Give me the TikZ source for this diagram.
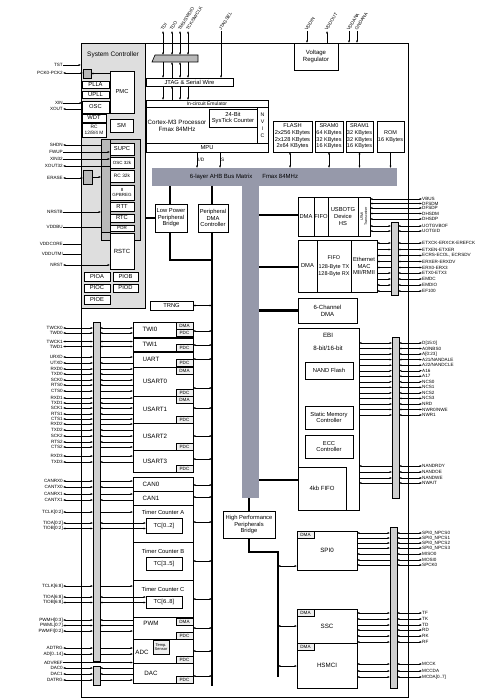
\documentclass[tikz,border=0pt]{standalone}
\usepackage{fontspec}
\setmainfont{Liberation Sans}
\usetikzlibrary{arrows.meta}
\definecolor{sysg}{RGB}{222,222,222}
\definecolor{supg}{RGB}{196,196,196}
\definecolor{busg}{RGB}{150,153,170}
\definecolor{muxg}{RGB}{208,208,208}
\newcommand{\fz}[2]{\fontsize{#1}{#2}\selectfont}
\newcommand{\bx}[7][]{\node[box,anchor=north west,minimum width={(#5-#3)*1pt},minimum height={(#6-#4)*1pt},#1] (#2) at (#3,#4) {#7};}
\newcommand{\tg}[4]{\node[tagbox,anchor=north west] (#1) at (#2,#3) {#4};}
\tikzset{
  myt/.tip={Latex[length=2.4pt,width=2pt]},
  box/.style={draw,line width=0.8pt,fill=white,inner sep=0pt,outer sep=0pt,align=center,font=\fz{5.8}{6.6}},
  tagbox/.style={draw,line width=0.9pt,fill=gray!12,inner sep=0pt,outer sep=0pt,minimum width=17pt,minimum height=7pt,font=\fz{4.6}{4.6}},
  ar/.style={-myt,line width=0.4pt},
  ra/.style={myt-,line width=0.4pt},
  dar/.style={myt-myt,line width=0.4pt},
  si/.style={ar}, so/.style={ra}, sb/.style={dar},
  pl/.style={font=\fz{4.6}{4.6},inner sep=0pt,anchor=east},
  pr/.style={font=\fz{4.6}{4.6},inner sep=0pt,anchor=west},
  ptop/.style={font=\fz{4.6}{4.6},inner sep=0pt,anchor=west,rotate=58},
  bus/.style={line width=2.3pt},
  mux/.style={draw,line width=0.5pt,fill=muxg,inner sep=0pt,outer sep=0pt},
  lbl/.style={font=\fz{6.2}{7},inner sep=0pt,align=center},
}
\begin{document}
\begin{tikzpicture}[x=1pt,y=-1pt]
\useasboundingbox (0,0) rectangle (483,700);
% ---------- chip frame ----------
\bx{chip}{81}{43}{408}{697}{}
% ---------- system controller ----------
\bx[fill=sysg]{sysc}{81}{43}{145}{308}{}
\node[lbl,font=\fz{6.5}{7}] (systitle) at (113,55) {System Controller};
\bx[fill=supg]{supr}{101}{139}{140}{240}{}
\bx[fill=gray!55,line width=0.5pt]{supcol}{101}{139}{110}{232}{}
\bx[fill=gray!55]{gsqa}{83}{69}{91}{78}{}
\bx[fill=gray!55]{gsqb}{83}{170}{92}{184}{}
\bx{pmc}{110}{71}{134}{113}{PMC}
\bx{plla}{82}{81}{109}{88}{PLLA}
\bx{upll}{82}{91}{109}{98}{UPLL}
\bx{osc}{82}{101}{109}{113}{OSC}
\bx{wdt}{82}{114}{106}{122}{WDT}
\bx[font=\fz{4.8}{5.3}]{rc}{82}{123}{106}{137}{RC\\12/8/4 M}
\bx{sm}{110}{119}{133}{132}{SM}
\bx{supc}{110}{143}{134}{155}{SUPC}
\bx[font=\fz{4.5}{5}]{osck}{110}{157}{134}{168}{OSC 32k}
\bx[font=\fz{4.8}{5}]{rck}{110}{170}{134}{182}{RC 32k}
\bx[font=\fz{4.5}{5}]{gpb}{110}{185}{134}{200}{8\\GPBREG}
\bx{rtt}{110}{202}{134}{211}{RTT}
\bx{rtc}{110}{214}{134}{222}{RTC}
\bx[font=\fz{4.5}{5}]{por}{110}{225}{134}{231}{POR}
\bx[font=\fz{6}{7}]{rstc}{110}{233}{134}{269}{RSTC}
\bx{pioa}{84}{272}{110}{281}{PIOA}
\bx{piob}{113}{272}{138}{281}{PIOB}
\bx{pioc}{84}{284}{110}{292}{PIOC}
\bx{piod}{113}{284}{138}{292}{PIOD}
\bx{pioe}{84}{295}{110}{304}{PIOE}
\draw[ar] (pmc.west |- gsqa.east) -- (gsqa.east);
\draw[ar] (gsqb.east) -- (supr.west |- gsqb.east);
% system pins
\node[pl] (ptst) at (63,65) {TST};        \draw[ar] (ptst.east) -- (chip.west |- ptst.east);
\node[pl] (ppck) at (63,73) {PCK0-PCK2};  \draw[dar] (ppck.east) -- (gsqa.west |- ppck.east);
\node[pl] (pxin) at (63,103) {XIN};       \draw[ar] (pxin.east) -- (osc.west |- pxin.east);
\node[pl] (pxout) at (63,109) {XOUT};     \draw[ra] (pxout.east) -- (osc.west |- pxout.east);
\node[pl] (pshdn) at (63,145) {SHDN};     \draw[ra] (pshdn.east) -- (supr.west |- pshdn.east);
\node[pl] (pfwup) at (63,152) {FWUP};     \draw[ar] (pfwup.east) -- (supc.west |- pfwup.east);
\node[pl] (pxin32) at (63,159) {XIN32};   \draw[ar] (pxin32.east) -- (osck.west |- pxin32.east);
\node[pl] (pxo32) at (63,166) {XOUT32};   \draw[ra] (pxo32.east) -- (osck.west |- pxo32.east);
\node[pl] (perase) at (63,178) {ERASE};   \draw[dar] (perase.east) -- (gsqb.west |- perase.east);
\node[pl] (pnrstb) at (63,212) {NRSTB};   \draw[ar] (pnrstb.east) -- (supr.west |- pnrstb.east);
\node[pl] (pvddbu) at (63,227) {VDDBU};   \draw[line width=0.4pt] (pvddbu.east) -- (supr.west |- pvddbu.east);
\node[pl] (pvddc) at (63,244) {VDDCORE};  \draw[line width=0.4pt] (pvddc.east) -- (chip.west |- pvddc.east);
\node[pl] (pvddu) at (63,254) {VDDUTMI};  \draw[line width=0.4pt] (pvddu.east) -- (chip.west |- pvddu.east);
\node[pl] (pnrst) at (63,265) {NRST};     \draw[dar] (pnrst.east) -- (rstc.west |- pnrst.east);
% ---------- top: JTAG, processor ----------
\node[anchor=north west,minimum width=46pt,minimum height=7pt,inner sep=0pt,outer sep=0pt] (bscan) at (152,55) {};
\draw[fill=gray!55,line width=0.6pt] (155,55) -- (198,55) -- (198,62) -- (152,62) -- cycle;
\bx{jtag}{146}{78}{233}{86}{JTAG \& Serial Wire}
\bx{cortex}{146}{100}{268}{152}{}
\bx[font=\fz{5}{5}]{ice}{146}{100}{268}{107}{In-circuit Emulator}
\node[lbl] (cortext) at (177,126) {Cortex-M3 Processor\\Fmax 84MHz};
\bx{systick}{209}{109}{257}{127}{24-Bit\\SysTick Counter}
\bx[font=\fz{5.2}{7}]{nvic}{257}{107}{268}{143}{N\\V\\I\\C}
\bx{mpu}{146}{143}{268}{152}{MPU}
\foreach \n/\x [count=\i] in {TDI/163,TDO/172,{TMS/SWDIO}/180,{TCK/SWCLK}/188}{
  \node[ptop] (tj\i) at (\x-1,30) {\n};
  \draw[dar] (\x,31) -- (\x,55);
}
\draw[ar] (163,62) -- (163,78);  \draw[ra] (172,62) -- (172,78);
\draw[dar] (180,62) -- (180,78); \draw[ar] (188,62) -- (188,78);
\draw[ar] (163,86) -- (163,100); \draw[ra] (172,86) -- (172,100);
\draw[ar] (180,86) -- (180,100); \draw[ar] (188,86) -- (188,100);
\node[ptop] (tjs) at (220,30) {JTAGSEL};  \draw[ar] (221,31) -- (jtag.north -| 221,0);
\bx[font=\fz{6}{7}]{vreg}{294}{43}{338}{70}{Voltage\\Regulator}
\node[ptop] (tvin) at (306,30) {VDDIN};   \draw[ar] (307,31) -- (vreg.north -| 307,0);
\node[ptop] (tvout) at (326,30) {VDDOUT}; \draw[ra] (327,31) -- (vreg.north -| 327,0);
\node[ptop] (tvana) at (348,30) {VDDANA}; \draw[ar] (349,31) -- (349,43);
\node[ptop] (tgana) at (356,30) {GNDANA}; \draw[ar] (357,31) -- (357,43);
% ---------- bus matrix ----------
\node[fill=busg,anchor=north west,minimum width=245pt,minimum height=18pt,inner sep=0pt,outer sep=0pt] (ahb) at (152,168) {};
\node[font=\fz{6}{6},inner sep=0pt] (ahbt) at (244,177) {6-layer AHB Bus Matrix\hspace{10pt}Fmax 84MHz};
\node[fill=busg,anchor=north west,minimum width=17pt,minimum height=312pt,inner sep=0pt,outer sep=0pt] (stem) at (242,186) {};
\draw[ar] (197,152) -- (197,168) node[midway,right,font=\fz{4.8}{5},inner sep=1pt] (lid) {I/D};
\draw[ar] (220,152) -- (220,168) node[midway,right,font=\fz{4.8}{5},inner sep=1pt] (ls) {S};
% memories
\bx[font=\fz{5.7}{6.7}]{flash}{273}{121}{312}{152}{FLASH\\2x256 KBytes\\2x128 KBytes\\2x64 KBytes}
\bx[font=\fz{5.5}{6.7}]{sram0}{315}{121}{343}{152}{SRAM0\\64 KBytes\\32 KBytes\\16 KBytes}
\bx[font=\fz{5.5}{6.7}]{sram1}{346}{121}{373}{152}{SRAM1\\32 KBytes\\32 KBytes\\16 KBytes}
\bx[font=\fz{5.5}{6.7}]{rom}{377}{121}{404}{152}{ROM\\16 KBytes}
\draw[dar] (flash.south -| 290,0) -- (ahb.north -| 290,0);
\draw[dar] (sram0.south) -- (ahb.north -| sram0.south);
\draw[dar] (sram1.south) -- (ahb.north -| sram1.south);
\draw[ar] (rom.south) -- (ahb.north -| rom.south);
% ---------- bridges ----------
\bx{lppb}{155}{204}{187}{232}{Low Power\\Peripheral\\Bridge}
\bx{pdmac}{198}{204}{228}{232}{Peripheral\\DMA\\Controller}
\draw[bus] (ahb.south -| 170,0) -- (lppb.north -| 170,0);
\draw[bus] (ahb.south -| 212,0) -- (pdmac.north -| 212,0);
\draw[bus] (lppb.west) -- (sysc.east |- lppb.west);
\draw[bus] (lppb.south -| 170,0) -- (170,260) -- (212,260);
\coordinate (apbend) at (212,686);
\draw[bus] (pdmac.south -| 212,0) -- (apbend);
\bx{trng}{150}{301}{193}{310}{TRNG}
\draw[dar] (trng.east) -- (trng.east -| apbend);
% ---------- USB ----------
\bx{udma}{298}{197}{314}{236}{DMA}
\bx{ufifo}{314}{197}{328}{236}{FIFO}
\bx{uotg}{328}{197}{358}{236}{USBOTG\\Device\\HS}
\bx{utmi}{358}{197}{370}{236}{}
\node[rotate=90,font=\fz{3.6}{4},align=center,inner sep=0pt] (utmit) at (utmi.center) {UTMI\\Transceiver};
\draw[bus] (stem.east |- 0,215) -- (udma.west |- 0,215);
% ---------- Ethernet ----------
\bx{edma}{298}{240}{317}{292}{DMA}
\bx[font=\fz{5.5}{6.5}]{efifo}{317}{240}{351}{292}{FIFO\\[3pt]128-Byte TX\\128-Byte RX}
\bx{emac}{351}{240}{377}{292}{Ethernet\\MAC\\MII/RMII}
\draw[bus] (stem.east |- 0,267) -- (edma.west |- 0,267);
\bx[font=\fz{6}{7}]{dma6}{298}{298}{357}{323}{6-Channel\\DMA}
\draw[bus] (stem.east |- dma6.west) -- (dma6.west);
% ---------- EBI ----------
\bx{ebi}{298}{328}{359}{510}{}
\node[lbl] (ebit) at (328,335) {EBI};
\node[lbl] (ebib) at (328,348) {8-bit/16-bit};
\bx{nand}{305}{362}{353}{379}{NAND Flash}
\bx{smc}{305}{406}{353}{429}{Static Memory\\Controller}
\bx{ecc}{305}{435}{353}{458}{ECC\\Controller}
\bx[font=\fz{6}{7}]{fifo4}{298}{467}{346}{510}{4kb FIFO}
\draw[bus] (stem.east |- 0,480) -- (fifo4.west |- 0,480);
% ---------- high performance bridge ----------
\bx{hpb}{223}{511}{275}{538}{High Performance\\Peripherals\\Bridge}
\draw[bus] (stem.south -| 249,0) -- (hpb.north -| 249,0);
\coordinate (hpend) at (278,677);
\draw[bus] (hpb.south -| 249,0) -- (249,552) -- (278,552) -- (hpend);
\bx[font=\fz{6.2}{7}]{spi}{297}{531}{357}{570}{SPI0}
\bx[font=\fz{6.2}{7}]{ssc}{297}{609}{357}{643}{SSC}
\bx[font=\fz{6.2}{7}]{hsmci}{297}{643}{357}{688}{HSMCI}
\tg{spidma}{297}{531}{DMA}
\tg{sscdma}{297}{609}{DMA}
\tg{hsmdma}{297}{643}{DMA}
\draw[dar] (hpend |- 0,566) -- (spi.west |- 0,566);
\draw[dar] (hpend |- 0,626) -- (ssc.west |- 0,626);
\draw[dar] (hpend |- 0,666) -- (hsmci.west |- 0,666);
% ---------- left peripherals ----------
\bx{twi0}{133}{322}{193}{337}{}   \node[lbl] at (150,329.5) {TWI0};
\bx{twi1}{133}{338}{193}{351}{}   \node[lbl] at (150,344.5) {TWI1};
\bx{uart}{133}{352}{193}{367}{}   \node[lbl] at (151,359.5) {UART};
\bx{usart0}{133}{367}{193}{396}{} \node[lbl] at (155,381.5) {USART0};
\bx{usart1}{133}{396}{193}{423}{} \node[lbl] at (155,409.5) {USART1};
\bx{usart2}{133}{423}{193}{450}{} \node[lbl] at (155,436.5) {USART2};
\bx{usart3}{133}{450}{193}{472}{} \node[lbl] at (155,461) {USART3};
\bx{can0}{133}{477}{193}{491}{}   \node[lbl] at (151,484) {CAN0};
\bx{can1}{133}{491}{193}{505}{}   \node[lbl] at (151,498) {CAN1};
\bx{tca}{133}{505}{193}{542}{}    \node[lbl,font=\fz{5.8}{6}] at (163,512.5) {Timer Counter A};
\bx{tcb}{133}{542}{193}{580}{}    \node[lbl,font=\fz{5.8}{6}] at (163,551) {Timer Counter B};
\bx{tcc}{133}{580}{193}{617}{}    \node[lbl,font=\fz{5.8}{6}] at (163,589) {Timer Counter C};
\bx{tc0}{146}{518}{182}{533}{TC[0..2]}
\bx{tc3}{146}{557}{182}{570}{TC[3..5]}
\bx{tc6}{146}{596}{182}{608}{TC[6..8]}
\bx{pwm}{133}{617}{193}{639}{}    \node[lbl] at (151,623.5) {PWM};
\bx{adc}{133}{639}{193}{663}{}    \node[lbl] at (142,652) {ADC};
\bx[font=\fz{4}{4.5},fill=gray!12]{temp}{153}{640}{169}{654}{Temp.\\Sensor}
\bx{dac}{133}{663}{193}{683}{}    \node[lbl] at (151,673) {DAC};
\tg{t1}{176}{322}{DMA} \tg{t2}{176}{329}{PDC}
\tg{t3}{176}{344}{PDC}
\tg{t4}{176}{359}{PDC} \tg{t5}{176}{367}{DMA}
\tg{t6}{176}{389}{PDC} \tg{t7}{176}{396}{DMA}
\tg{t8}{176}{416}{PDC}
\tg{t9}{176}{443}{PDC}
\tg{t10}{176}{465}{PDC}
\tg{t11}{176}{618}{DMA} \tg{t12}{176}{632}{PDC}
\tg{t13}{176}{656}{PDC}
\tg{t14}{176}{676}{PDC}
\foreach \y in {331,345,359,388,408,436,459,485,497,522,561,599,628,651,676}{
  \draw[dar] (193,\y) -- (apbend |- 0,\y);
}
% ---------- left mux bars and pins ----------
\node[mux,anchor=north west,minimum width=7pt,minimum height=339pt] (lbar) at (93,322) {};
\node[mux,anchor=north west,minimum width=7pt,minimum height=19pt] (dbar) at (93,666) {};
\foreach \n/\y/\d/\t [count=\i] in {TWCK0/328/sb/133,TWD0/333/sb/133,TWCK1/341.5/sb/133,TWD1/346.5/sb/133,
  URXD/357/si/133,UTXD/363/so/133,RXD0/369/si/133,TXD0/374/so/133,SCK0/380/sb/133,RTS0/385/so/133,CTS0/391/si/133,
  RXD1/398/si/133,TXD1/403/so/133,SCK1/408/sb/133,RTS1/414/so/133,CTS1/419/si/133,
  RXD2/424/si/133,TXD2/430/so/133,SCK2/436/sb/133,RTS2/442/so/133,CTS2/447/si/133,
  RXD3/456/si/133,TXD3/462/so/133,CANRX0/481/si/133,CANTX0/487/so/133,CANRX1/494/si/133,CANTX1/500/so/133,
  {TCLK[0:2]}/512/si/133,{TIOA[0:2]}/523/sb/146,{TIOB[0:2]}/528.5/sb/146,
  {TCLK[6:8]}/586/si/133,{TIOA[6:8]}/597/sb/146,{TIOB[6:8]}/602.5/sb/146,
  {PWMH[0:3]}/620/so/133,{PWML[0:7]}/625.5/so/133,{PWMFI[0:2]}/631/si/133,
  ADTRG/648/si/133,{AD[0..14]}/654/si/133,DAC0/668/so/133,DAC1/674/so/133,DATRG/680/si/133}{
  \node[pl] (lp\i) at (63,\y) {\n};
  \draw[dar] (lp\i.east) -- (lbar.west |- lp\i.east);
  \draw[\d] (lbar.east |- lp\i.east) -- (\t,\y);
}
\node[pl] (lpadv) at (63,662.5) {ADVREF};
\draw[ar] (lpadv.east) -- (adc.west |- lpadv.east);
% ---------- right mux bars and pins ----------
\node[mux,anchor=north west,minimum width=7pt,minimum height=73pt] (ubar) at (391,222) {};
\node[mux,anchor=north west,minimum width=7pt,minimum height=161pt] (ebar) at (392,337) {};
\node[mux,anchor=north west,minimum width=7pt,minimum height=161pt] (sbar) at (390,527) {};
\foreach \n/\y [count=\i] in {VBUS/199,DFSDM/203.5,DFSDP/208,DHSDM/213.5,DHSDP/219}{
  \node[pr] (rv\i) at (422,\y) {\n};
  \draw[dar] (utmi.east |- rv\i.west) -- (rv\i.west);
}
\foreach \n/\y/\d/\b [count=\i] in {UOTGVBOF/226/sb/370,UOTGID/231/sb/370,
  ETXCK-ERXCK-EREFCK/243/sb/377,ETXEN-ETXER/249.5/so/377,{ECRS-ECOL, ECRSDV}/255.5/si/377,ERXER-ERXDV/261.5/si/377,
  ERX0-ERX3/267.5/si/377,ETX0-ETX3/273/so/377,EMDC/279/so/377,EMDIO/285/sb/377,EF100/291/si/377}{
  \node[pr] (ru\i) at (422,\y) {\n};
  \draw[dar] (ubar.east |- ru\i.west) -- (ru\i.west);
  \draw[\d] (ubar.west |- ru\i.west) -- (\b,\y);
}
\foreach \n/\y/\d [count=\i] in {{D[15:0]}/343/sb,{A0/NBS0}/348.5/so,{A[0:23]}/354/so,{A21/NANDALE}/359.6/so,{A22/NANDCLE}/365.2/so,
  A16/370.7/so,A17/376.2/so,NCS0/381.8/so,NCS1/387.3/so,NCS2/392.9/so,NCS3/398.4/so,NRD/404/so,{NWR0/NWE}/409.5/so,NWR1/415/so,
  NANDRDY/466/si,NANDOE/472/so,NANDWE/478/so,NWAIT/483/si}{
  \node[pr] (re\i) at (422,\y) {\n};
  \draw[dar] (ebar.east |- re\i.west) -- (re\i.west);
  \draw[\d] (ebar.west |- re\i.west) -- (ebi.east |- re\i.west);
}
\foreach \n/\y/\d/\b [count=\i] in {SPI0\_NPCS0/533/sb/357,SPI0\_NPCS1/538/so/357,SPI0\_NPCS2/543/so/357,SPI0\_NPCS3/548/so/357,
  MISO0/554/si/357,MOSI0/560/si/357,SPCK0/565/si/357,
  TF/613/sb/357,TK/619/sb/357,TD/625/so/357,RD/630/si/357,RK/636/sb/357,RF/642/sb/357,
  MCCK/664/sb/357,MCCDA/671/sb/357,{MCDA[0..7]}/677/sb/357}{
  \node[pr] (rs\i) at (422,\y) {\n};
  \draw[dar] (sbar.east |- rs\i.west) -- (rs\i.west);
  \draw[\d] (sbar.west |- rs\i.west) -- (\b,\y);
}
\end{tikzpicture}
\end{document}
